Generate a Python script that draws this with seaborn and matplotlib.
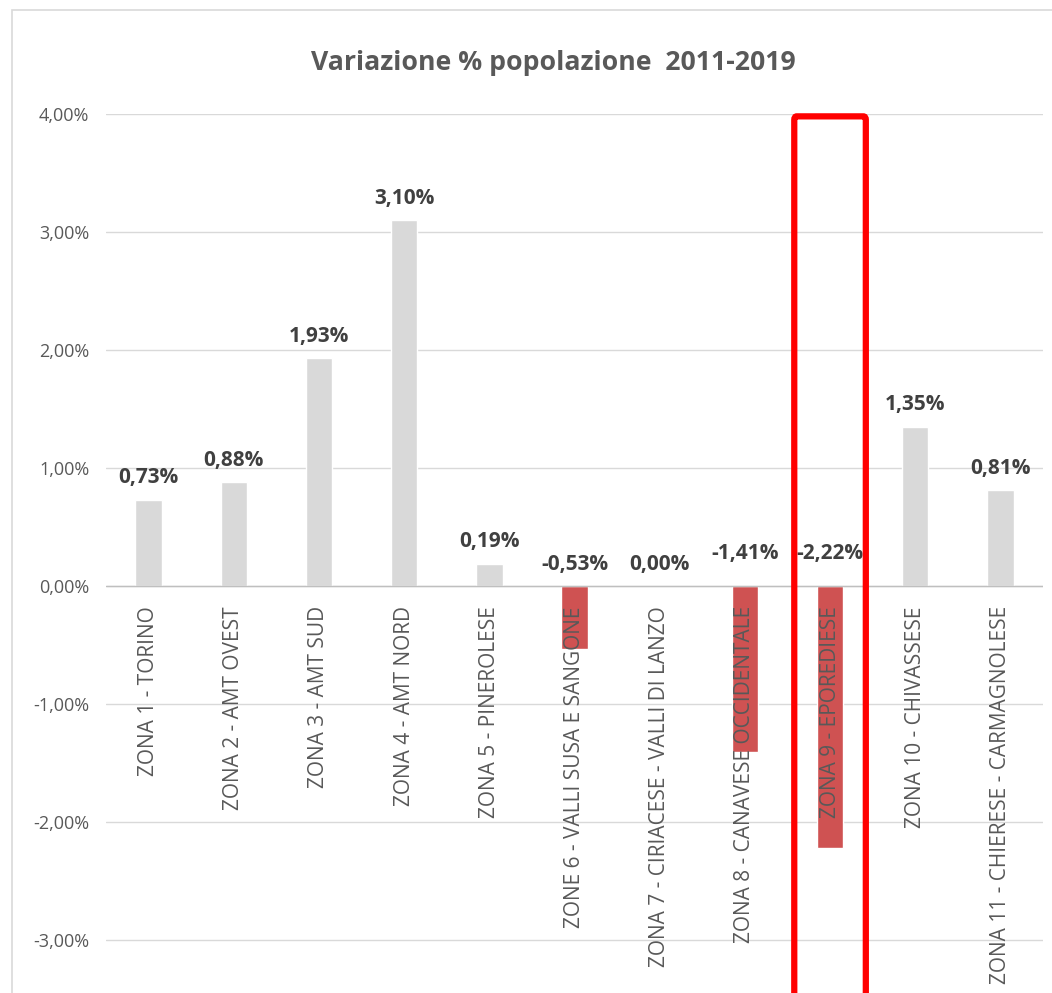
import matplotlib
matplotlib.use("Agg")
import matplotlib.pyplot as plt
import matplotlib.patches as mpatches
from matplotlib.ticker import FuncFormatter
import seaborn as sns

# Data
zones = [
    "ZONA 1 - TORINO",
    "ZONA 2 - AMT OVEST",
    "ZONA 3 - AMT SUD",
    "ZONA 4 - AMT NORD",
    "ZONA 5 - PINEROLESE",
    "ZONE 6 - VALLI SUSA E SANGONE",
    "ZONA 7 - CIRIACESE - VALLI DI LANZO",
    "ZONA 8 - CANAVESE OCCIDENTALE",
    "ZONA 9 - EPOREDIESE",
    "ZONA 10 - CHIVASSESE",
    "ZONA 11 - CHIERESE - CARMAGNOLESE",
]
variazione = [0.73, 0.88, 1.93, 3.10, 0.19, -0.53, 0.00, -1.41, -2.22, 1.35, 0.81]
highlight_zone = "ZONA 9 - EPOREDIESE"
yticks = [-3, -2, -1, 0, 1, 2, 3, 4]

POS_COLOR = "#D9D9D9"
NEG_COLOR = "#CF5252"

sns.set_style("white")
plt.rcParams["font.family"] = ["Open Sans", "DejaVu Sans"]

fig = plt.figure(figsize=(10.52, 9.93), dpi=100)
W, H = 1052, 993
ax = fig.add_axes([106 / W, 0, (1043 - 106) / W, (H - 114) / H])

colors = [NEG_COLOR if v < 0 else POS_COLOR for v in variazione]
sns.barplot(x=zones, y=variazione, hue=zones, palette=colors, dodge=False,
            legend=False, width=0.31, ax=ax, saturation=1)

ax.set_xlim(-0.5, len(zones) - 0.5)
ax.set_ylim(-3.449, 4.0)
ax.set_yticks(yticks)
ax.yaxis.set_major_formatter(FuncFormatter(lambda v, p: f"{v:.2f}%".replace(".", ",")))
ax.tick_params(axis="y", length=0, pad=12, labelsize=13, labelcolor="#595959")
ax.set_xticks([])
ax.set_xlabel("")
ax.set_ylabel("")
for s in ax.spines.values():
    s.set_visible(False)
ax.grid(axis="y", color="#D9D9D9", linewidth=1)
ax.set_axisbelow(True)
ax.axhline(0, color="#BFBFBF", linewidth=1, zorder=1)

# category labels hanging below the zero line
for i, name in enumerate(zones):
    ax.text(i, -0.17, name, rotation=90, ha="center", va="top",
            fontsize=15, color="#595959", zorder=5)

# value labels
for i, v in enumerate(variazione):
    off = 22 if v > -1 else 33
    ax.annotate(f"{v:.2f}%".replace(".", ","), (i, max(v, 0)),
                xytext=(0, off), textcoords="offset pixels",
                ha="center", va="center", fontsize=15, fontweight="bold",
                color="#404040", zorder=6)

# red highlight box around zone 9
k = zones.index(highlight_zone)
box = mpatches.FancyBboxPatch((k - 0.42, -3.7), 0.84, 3.98 + 3.7,
                              boxstyle="round,pad=0,rounding_size=0.03",
                              fill=False, edgecolor="#FF0000", linewidth=4.5,
                              clip_on=False, zorder=10)
ax.add_patch(box)

fig.text(553 / W, 1 - 63 / H, "Variazione % popolazione  2011-2019",
         ha="center", va="center", fontsize=19.2, fontweight="bold", color="#595959")

# chart outer border
fig.add_artist(mpatches.Rectangle((12 / W, -0.01), 1.1, 1 - 10 / H + 0.01,
                                  transform=fig.transFigure, fill=False,
                                  edgecolor="#D9D9D9", linewidth=1.2))

fig.savefig("out.png", dpi=100)
